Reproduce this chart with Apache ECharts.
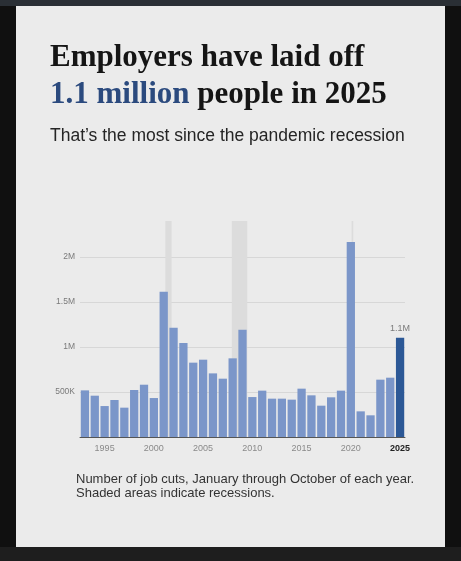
<!DOCTYPE html>
<html>
<head>
<meta charset="utf-8">
<script src="https://cdn.jsdelivr.net/npm/echarts@6/dist/echarts.min.js"></script>
<style>
html,body{margin:0;padding:0;background:#111;}
#chart{width:461px;height:561px;}
</style>
</head>
<body>
<div id="chart"></div>
<script>
// ---- data ----
var years = ['1993','1994','1995','1996','1997','1998','1999','2000','2001','2002','2003','2004','2005','2006','2007','2008','2009','2010','2011','2012','2013','2014','2015','2016','2017','2018','2019','2020','2021','2022','2023','2024','2025'];
var jobCuts = [518000, 459000, 344000, 411000, 326000, 522000, 581000, 433000, 1615000, 1215000, 1044000, 826000, 859000, 707000, 648000, 874000, 1193000, 444000, 515000, 426000, 426000, 415000, 537000, 463000, 348000, 441000, 515000, 2167000, 285000, 241000, 637000, 659000, 1104000];
var recessionStart = [2001.17, 2007.92, 2020.08];
var recessionEnd = [2001.80, 2009.48, 2020.25];
var yTicks = [500000, 1000000, 1500000, 2000000];
var yTickLabels = ['500K', '1M', '1.5M', '2M'];
var xLabelYears = ['1995','2000','2005','2010','2015','2020','2025'];
var highlightYear = '2025';
var highlightLabel = '1.1M';

var chart = echarts.init(document.getElementById('chart'), null, {renderer: 'canvas'});

var barData = jobCuts.map(function (v, i) {
  if (years[i] === highlightYear) {
    return {
      value: v,
      itemStyle: {color: '#2c5896'},
      label: {show: true, position: 'top', distance: 5, formatter: highlightLabel, color: '#7a7a7a', fontSize: 9, fontFamily: 'Liberation Sans'}
    };
  }
  return v;
});

var areas = recessionStart.map(function (s, i) {
  return [{xAxis: s, yAxis: 0}, {xAxis: recessionEnd[i], yAxis: 2400000}];
});

var option = {
  backgroundColor: '#101010',
  animation: false,
  graphic: [
    {type: 'rect', shape: {x: 0, y: 0, width: 461, height: 6}, style: {fill: '#2a2f35'}, z: -10},
    {type: 'rect', shape: {x: 0, y: 547, width: 461, height: 14}, style: {fill: '#1e1e1e'}, z: -10},
    {type: 'rect', shape: {x: 16, y: 6, width: 429, height: 541}, style: {fill: '#ebebeb'}, z: -10}
  ],
  title: [
    {
      left: 45, top: 34,
      text: '{a|Employers have laid off}\n{b|1.1 million}{a| people in 2025}',
      textStyle: {
        rich: {
          a: {fontFamily: 'Liberation Serif', fontWeight: 'bold', fontSize: 31, lineHeight: 37, color: '#151515'},
          b: {fontFamily: 'Liberation Serif', fontWeight: 'bold', fontSize: 31, lineHeight: 37, color: '#2b4a7e'}
        }
      }
    },
    {
      left: 45, top: 121,
      text: "That\u2019s the most since the pandemic recession",
      textStyle: {fontFamily: 'Liberation Sans', fontWeight: 'normal', fontSize: 17.5, lineHeight: 20, color: '#252525'}
    },
    {
      left: 71, top: 467,
      text: 'Number of job cuts, January through October of each year.\nShaded areas indicate recessions.',
      textStyle: {fontFamily: 'Liberation Sans', fontWeight: 'normal', fontSize: 13, lineHeight: 14.6, color: '#333333'}
    }
  ],
  grid: {left: 80, right: 56, top: 221, bottom: 124, containLabel: false},
  xAxis: [
    {
      type: 'category',
      data: years,
      axisLine: {show: true, lineStyle: {color: '#555', width: 1}},
      axisTick: {show: false},
      axisLabel: {
        interval: function (idx, val) { return xLabelYears.indexOf(val) >= 0; },
        margin: 7,
        fontSize: 9,
        fontFamily: 'Liberation Sans',
        color: '#8a8a8a',
        formatter: function (val) { return val === highlightYear ? '{h|' + val + '}' : val; },
        rich: {h: {fontSize: 9, fontWeight: 'bold', color: '#222', fontFamily: 'Liberation Sans'}}
      },
      splitLine: {show: false}
    },
    {
      type: 'value',
      min: 1992.5,
      max: 2025.5,
      show: false
    }
  ],
  yAxis: {
    type: 'value',
    min: 0,
    max: 2400000,
    interval: 500000,
    axisLine: {show: false},
    axisTick: {show: false},
    splitLine: {show: true, showMinLine: false, showMaxLine: false, lineStyle: {color: '#d7d7d7', width: 1}},
    axisLabel: {
      margin: 5,
      fontSize: 8.5,
      fontFamily: 'Liberation Sans',
      color: '#7a7a7a',
      formatter: function (v) {
        var k = yTicks.indexOf(v);
        return k >= 0 ? yTickLabels[k] : '';
      }
    }
  },
  series: [
    {
      type: 'line',
      xAxisIndex: 1,
      yAxisIndex: 0,
      data: [[1993, 0]],
      symbol: 'none',
      lineStyle: {opacity: 0},
      silent: true,
      z: 1,
      markArea: {
        silent: true,
        itemStyle: {color: '#dcdcdc'},
        data: areas
      }
    },
    {
      type: 'bar',
      xAxisIndex: 0,
      yAxisIndex: 0,
      data: barData,
      barCategoryGap: '16%',
      itemStyle: {color: '#7b96c9'},
      z: 3
    }
  ]
};
chart.setOption(option);
</script>
</body>
</html>
